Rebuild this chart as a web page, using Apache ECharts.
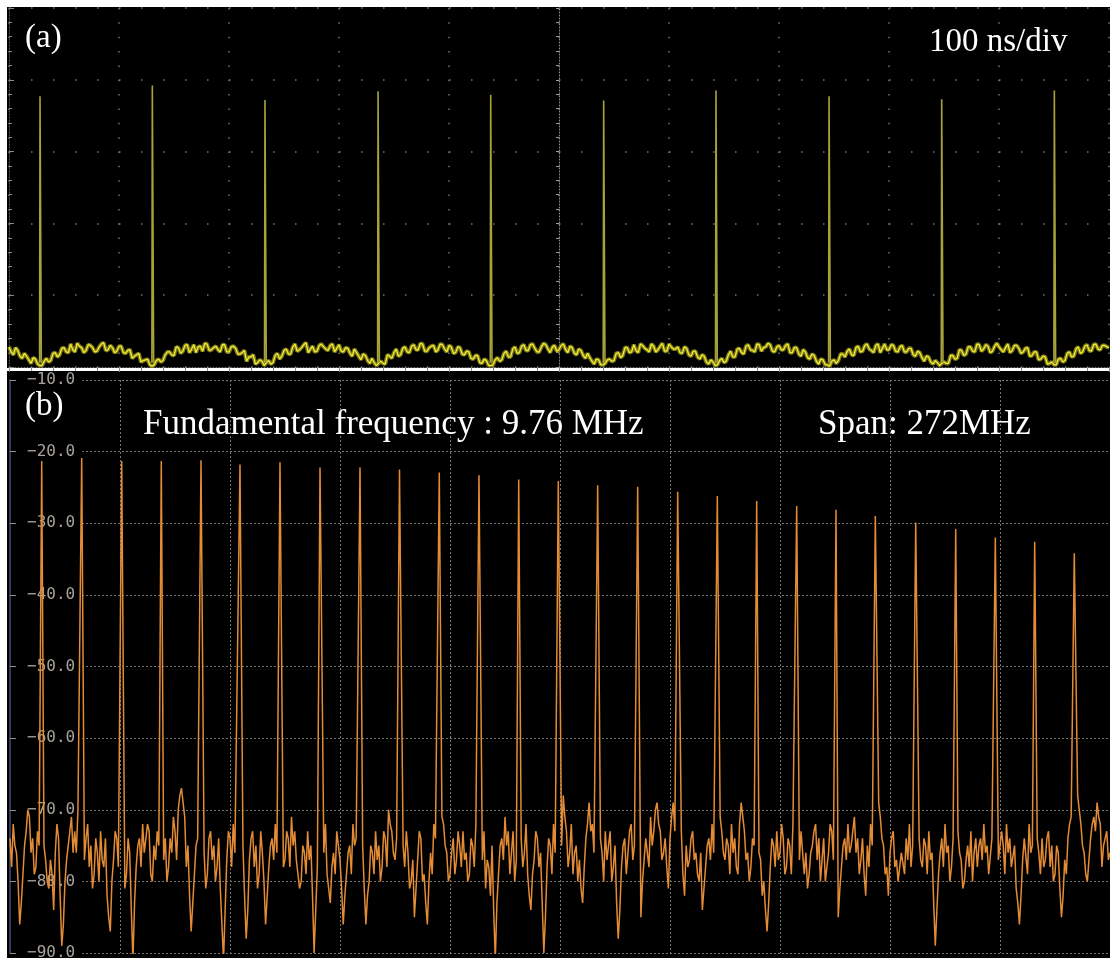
<!DOCTYPE html>
<html>
<head>
<meta charset="utf-8">
<script src="https://cdn.jsdelivr.net/npm/echarts@6/dist/echarts.min.js"></script>
<style>
  html, body { margin: 0; padding: 0; background: #ffffff; }
  #chart { width: 1110px; height: 958px; }
</style>
</head>
<body>
<div id="chart"></div>
<script>
// ---------- (a) oscilloscope: 100 ns/div, 10 divisions, vertical in 1/100 div ----------
// samples every 4 ns, and the samples 2 ns after them
const scopeSampleNs = 4;
const scopeTrace = [
  28, 17, 23, 12, 15, 5, 11, 2,
  8, 7, 19, 14, 26, 21, 32, 21, 29, 20, 31, 27, 22, 32, 23, 30, 20, 29, 20, 23, 12, 17, 7, 10, 3,
  3, 11, 9, 21, 17, 28, 19, 30, 20, 31, 28, 22, 32, 24, 29, 21, 31, 21, 29, 18, 20, 8, 14, 4, 10, 2,
  9, 6, 19, 15, 25, 18, 32, 24, 31, 20, 29, 22, 32, 25, 30, 21, 31, 21, 26, 15, 20, 10, 16, 5, 6,
  5, 5, 17, 12, 25, 17, 28, 20, 31, 24, 32, 22, 29, 21, 32, 25, 30, 19, 28, 18, 22, 12, 16, 6, 11, 2,
  3, 13, 10, 22, 14, 28, 20, 31, 23, 32, 21, 28, 31, 20, 30, 24, 32, 20, 27, 17, 23, 12, 13, 4, 10, 3,
  10, 8, 19, 13, 27, 20, 31, 20, 30, 24, 32, 21, 29, 22, 32, 25, 28, 19, 26, 15, 22, 11, 15, 4, 7,
  3, 12, 8, 22, 14, 26, 18, 31, 23, 32, 22, 28, 31, 21, 30, 24, 32, 20, 27, 15, 21, 11, 16, 4, 10, 3,
  8, 5, 18, 14, 25, 16, 29, 22, 32, 23, 30, 20, 32, 24, 30, 21, 30, 21, 26, 15, 20, 8, 14, 4, 6,
  5, 5, 16, 11, 24, 16, 28, 22, 32, 22, 31, 20, 29, 28, 21, 32, 23, 30, 19, 26, 15, 21, 10, 15, 4, 7,
  3, 12, 9, 21, 15, 28, 21, 31, 22, 32, 24, 30, 27
];
const scopeTraceMid = [
  21, 27, 15, 19, 10, 13, 4,
  2, 12, 9, 20, 17, 27, 20, 24, 33, 27, 23, 30, 21, 28, 34, 24, 27, 22, 29, 19, 24, 15, 19, 9, 11,
  1, 9, 7, 17, 21, 16, 27, 22, 31, 25, 20, 29, 33, 23, 27, 24, 31, 21, 28, 26, 18, 23, 14, 17, 6, 8,
  6, 4, 16, 11, 23, 18, 28, 22, 27, 34, 25, 21, 30, 28, 23, 32, 26, 22, 27, 19, 25, 15, 18, 9, 12, 2,
  8, 4, 15, 20, 15, 26, 21, 29, 24, 33, 22, 27, 30, 24, 31, 21, 28, 20, 27, 17, 21, 11, 16, 5, 9,
  2, 10, 8, 19, 14, 25, 19, 29, 23, 31, 26, 21, 33, 25, 28, 22, 30, 24, 29, 19, 25, 16, 19, 8, 11, 3,
  5, 11, 9, 20, 16, 27, 21, 23, 32, 26, 21, 29, 24, 33, 22, 28, 25, 20, 28, 17, 22, 14, 17, 7, 10, 2,
  9, 6, 17, 14, 25, 20, 29, 24, 21, 31, 27, 33, 22, 28, 24, 30, 20, 27, 18, 24, 13, 18, 8, 11, 3,
  1, 10, 9, 18, 22, 17, 27, 21, 30, 25, 20, 32, 26, 24, 31, 22, 28, 21, 26, 17, 22, 13, 15, 7, 9, 2,
  7, 5, 16, 12, 23, 18, 28, 21, 31, 25, 29, 22, 33, 24, 27, 20, 30, 26, 21, 27, 16, 21, 11, 14, 5, 3,
  11, 7, 19, 14, 25, 19, 29, 23, 31, 25, 30, 28
];
const pulseTimesNs = [28.2, 130.3, 232.7, 335.5, 437.9, 540.6, 642.7, 745.5, 847.9, 950.3];
const pulseTops = [377, 392, 372, 384, 379, 371, 385, 377, 373, 385];
const pulseFoot = 6;

// ---------- (b) RF spectrum: span 272 MHz, dBm ----------
// sweep bins every 0.8 MHz, plus the bins half a step later
const specStepMHz = 0.8;
const specNoise = [
  -74, -72, -76, -86, -79, -73, -71, -74, -78, -75, -72, -77, -81, -79, -76, -74, -89, -80, -75, -71,
  -73, -70, -74, -77, -72, -75, -79, -76, -73, -78, -82, -87, -77, -74, -71, -75, -79, -76, -91, -78,
  -74, -72, -76, -73, -80, -77, -75, -72, -74, -78, -76, -73, -70, -67, -71, -75, -87, -79, -74, -72,
  -76, -79, -73, -75, -78, -81, -91, -77, -74, -72, -76, -79, -75, -88, -77, -73, -75, -79, -76, -86,
  -78, -74, -72, -75, -82, -77, -74, -71, -73, -77, -80, -76, -73, -75, -90, -78, -74, -76, -79, -83,
  -76, -73, -77, -86, -79, -75, -72, -74, -77, -75, -86, -80, -76, -73, -75, -78, -74, -70, -73, -77,
  -75, -72, -78, -76, -80, -85, -77, -74, -79, -86, -76, -72, -70, -68, -72, -76, -79, -74, -77, -75,
  -73, -76, -79, -75, -72, -74, -77, -81, -78, -75, -91, -79, -74, -71, -73, -76, -80, -77, -74, -76,
  -79, -84, -77, -74, -76, -90, -78, -75, -72, -74, -71, -68, -73, -76, -79, -75, -77, -83, -74, -69,
  -72, -75, -78, -76, -73, -77, -80, -75, -88, -78, -74, -76, -72, -75, -79, -85, -77, -74, -71, -73,
  -69, -73, -76, -78, -74, -69, -72, -76, -79, -75, -77, -73, -76, -80, -84, -78, -74, -72, -75, -69,
  -73, -77, -75, -72, -74, -79, -69, -73, -76, -78, -75, -73, -77, -80, -87, -78, -75, -73, -76, -74,
  -78, -75, -72, -74, -77, -73, -76, -79, -75, -72, -74, -77, -80, -76, -73, -75, -85, -78, -74, -72,
  -75, -71, -74, -77, -79, -75, -72, -70, -66, -71, -75, -78, -76, -73, -77, -80, -76, -74, -72, -75,
  -77, -74, -78, -75, -73, -76, -89, -79, -74, -72, -75, -78, -76, -73, -77, -80, -75, -73, -76, -78,
  -74, -72, -75, -79, -76, -73, -77, -75, -72, -74, -78, -81, -86, -77, -74, -72, -75, -78, -76, -74,
  -77, -73, -75, -79, -76, -85, -77, -74, -71, -70, -68, -72, -76, -80, -74, -71, -69, -72, -75, -73, -76
];
const specNoiseMid = [
  -78, -75, -80, -83, -75, -70, -76, -79, -73, -78, -75, -80, -77, -84, -72, -82, -86, -77, -73, -76,
  -76, -73, -79, -74, -78, -81, -74, -80, -77, -74, -85, -80, -73, -78, -76, -81, -74, -84, -83, -75,
  -78, -76, -72, -79, -75, -73, -79, -77, -80, -74, -71, -77, -68, -69, -78, -82, -83, -75, -79, -77,
  -81, -74, -77, -80, -74, -86, -84, -73, -78, -76, -80, -74, -82, -84, -74, -78, -81, -73, -80, -82,
  -75, -77, -76, -79, -78, -73, -78, -75, -77, -81, -75, -79, -77, -82, -84, -75, -79, -72, -81, -78,
  -79, -75, -81, -82, -76, -79, -75, -78, -73, -81, -82, -75, -79, -77, -80, -73, -78, -72, -76, -74,
  -78, -75, -73, -81, -77, -81, -73, -80, -83, -80, -79, -74, -73, -71, -75, -80, -76, -79, -73, -78,
  -77, -80, -74, -78, -76, -79, -73, -77, -82, -84, -83, -75, -77, -75, -79, -73, -77, -81, -78, -72,
  -82, -79, -73, -78, -83, -85, -74, -79, -76, -70, -75, -71, -78, -72, -76, -80, -81, -78, -72, -73,
  -76, -79, -74, -80, -77, -73, -78, -83, -84, -75, -79, -73, -77, -80, -82, -80, -74, -78, -75, -70,
  -72, -77, -74, -81, -71, -73, -76, -73, -82, -78, -74, -77, -79, -76, -81, -75, -77, -76, -72, -71,
  -76, -74, -79, -76, -78, -72, -71, -77, -80, -74, -79, -76, -82, -84, -83, -74, -78, -77, -72, -79,
  -74, -79, -76, -78, -73, -79, -81, -76, -73, -77, -80, -74, -78, -72, -77, -82, -81, -75, -77, -76,
  -73, -76, -79, -74, -82, -78, -75, -68, -69, -74, -79, -82, -74, -78, -80, -76, -79, -77, -78, -80,
  -80, -77, -74, -79, -77, -83, -84, -76, -78, -76, -80, -74, -79, -76, -81, -77, -78, -80, -74, -75,
  -77, -76, -79, -74, -80, -77, -73, -79, -76, -78, -75, -83, -82, -74, -79, -76, -80, -74, -79, -78,
  -74, -78, -80, -75, -81, -82, -79, -72, -74, -69, -70, -75, -79, -77, -72, -73, -71, -78, -74, -77
];
const harmonicFreqMHz = [
  7.84, 17.73, 27.62, 37.41, 47.23, 56.87, 66.76, 76.66, 86.55, 96.31,
  106.15, 115.97, 125.79, 135.58, 145.32, 155.21, 165.10, 174.90, 184.64, 194.53,
  204.25, 213.97, 223.96, 233.85, 243.64, 253.38, 263.17
];
const harmonicLevelDbm = [
  -21.3, -20.9, -21.3, -21.3, -21.2, -21.8, -21.5, -22.2, -22.2, -22.5,
  -22.9, -23.3, -23.9, -24.1, -24.7, -24.9, -25.6, -26.2, -26.9, -27.6,
  -28.1, -29.0, -29.9, -30.8, -32.0, -32.6, -34.2
];
const harmonicHalfWidthMHz = 0.55;

// ---------- build series data ----------
let scopeData = [];
scopeTrace.forEach((v, i) => scopeData.push([i * scopeSampleNs, v]));
scopeTraceMid.forEach((v, i) => scopeData.push([i * scopeSampleNs + scopeSampleNs / 2, v]));
scopeData.sort((a, b) => a[0] - b[0]);

const pulseData = [];
pulseTimesNs.forEach((t, k) => {
  pulseData.push([t - 0.4, pulseFoot], [t, pulseTops[k]], [t + 1.2, pulseFoot], [t + 1.3, '-']);
});

const nearHarmonic = f => harmonicFreqMHz.some(h => Math.abs(h - f) < harmonicHalfWidthMHz);
let specData = [];
specNoise.forEach((v, i) => specData.push([i * specStepMHz, v]));
specNoiseMid.forEach((v, i) => specData.push([(i + 0.5) * specStepMHz, v]));
specData = specData.filter(p => !nearHarmonic(p[0]));
harmonicFreqMHz.forEach((f, k) => specData.push([f, harmonicLevelDbm[k]]));
specData.sort((a, b) => a[0] - b[0]);

const gridGrey = '#767676';
const serif = '"Liberation Serif", "Times New Roman", serif';

const chart = echarts.init(document.getElementById('chart'), null, { renderer: 'canvas' });
chart.setOption({
  animation: false,
  backgroundColor: '#ffffff',
  grid: [
    { left: 9, right: 1, top: 8, bottom: 591, outerBoundsMode: 'none' },
    { left: 10, right: 0, top: 380, bottom: 5, outerBoundsMode: 'none' }
  ],
  xAxis: [
    {
      type: 'value', gridIndex: 0, min: 0, max: 1000, interval: 100, position: 'top',
      axisLine: { show: true, lineStyle: { color: '#6a6a6a', type: [1, 2] } },
      axisTick: { show: true, inside: true, length: 5, lineStyle: { color: '#8a8a8a' } },
      minorTick: { show: true, splitNumber: 5, length: 4, lineStyle: { color: '#8a8a8a' } },
      axisLabel: { show: false },
      splitLine: { show: true, lineStyle: { color: gridGrey, width: 1.5, type: [1.5, 12.85] } }
    },
    {
      type: 'value', gridIndex: 1, min: 0, max: 272, interval: 27.2,
      axisLine: { show: false }, axisTick: { show: false }, axisLabel: { show: false },
      splitLine: { show: true, lineStyle: { color: gridGrey, width: 1, type: [2, 2] } }
    }
  ],
  yAxis: [
    {
      type: 'value', gridIndex: 0, min: 0, max: 500, interval: 100, position: 'left',
      axisLine: { show: true, lineStyle: { color: '#5a5a5a', type: [1, 2] } },
      axisTick: { show: true, inside: true, length: 5, lineStyle: { color: '#8a8a8a' } },
      minorTick: { show: true, splitNumber: 5, length: 3, lineStyle: { color: '#8a8a8a' } },
      axisLabel: { show: false },
      splitLine: { show: true, lineStyle: { color: gridGrey, width: 1.5, type: [1.5, 20.5] } }
    },
    {
      // centre graticule line with its sub-division ticks
      type: 'value', gridIndex: 0, min: 0, max: 500, interval: 20, position: 'left', offset: -550,
      axisLine: { show: true, lineStyle: { color: '#8c8c8c', type: [1, 2] } },
      axisTick: { show: true, length: 3, lineStyle: { color: '#9a9a9a' } },
      axisLabel: { show: false }, splitLine: { show: false }
    },
    {
      // spectrum horizontal grid lines
      type: 'value', gridIndex: 1, min: -90, max: -10, interval: 10, position: 'left', z: 0,
      axisLine: { show: false }, axisTick: { show: false }, axisLabel: { show: false },
      splitLine: { show: true, lineStyle: { color: gridGrey, width: 1, type: [2, 2] } }
    },
    {
      // spectrum reference-level labels
      type: 'value', gridIndex: 1, min: -90, max: -10, interval: 10, position: 'left', z: 1,
      axisLine: { show: true, lineStyle: { color: '#2e3a56', width: 2 } },
      axisTick: { show: true, inside: true, length: 6, lineStyle: { color: '#8f8f8f' } },
      axisLabel: {
        show: true, inside: true, margin: 7,
        fontFamily: '"DejaVu Sans Mono", monospace', fontSize: 16, color: '#a8a398',
        backgroundColor: '#000000', padding: [0, 7, 0, 10],
        formatter: v => (v < 0 ? '\u2212' : '') + Math.abs(v).toFixed(1)
      },
      splitLine: { show: false }
    }
  ],
  series: [
    {
      name: 'trace-glow', type: 'line', xAxisIndex: 0, yAxisIndex: 0, data: scopeData,
      showSymbol: false, silent: true, z: 2,
      lineStyle: { color: '#8d8a1e', width: 4, opacity: 0.85 }
    },
    {
      name: 'trace', type: 'line', xAxisIndex: 0, yAxisIndex: 0, data: scopeData,
      showSymbol: false, silent: true, z: 3,
      lineStyle: { color: '#f2ec34', width: 1.3 }
    },
    {
      name: 'pulses', type: 'line', xAxisIndex: 0, yAxisIndex: 0, data: pulseData,
      showSymbol: false, silent: true, connectNulls: false, z: 4,
      lineStyle: { color: '#a7a33a', width: 1.6 }
    },
    {
      name: 'spectrum', type: 'line', xAxisIndex: 1, yAxisIndex: 3, data: specData,
      showSymbol: false, silent: true, z: 3,
      lineStyle: { color: '#e48b35', width: 1.5 }
    }
  ],
  graphic: [
    { type: 'rect', z: -10, silent: true, shape: { x: 7, y: 7, width: 1103, height: 361 }, style: { fill: '#000000' } },
    { type: 'rect', z: -10, silent: true, shape: { x: 7, y: 371, width: 1103, height: 587 }, style: { fill: '#000000' } },
    { type: 'text', z: 100, x: 25, y: 38, style: { text: '(a)', font: '33px ' + serif, fill: '#ffffff', verticalAlign: 'middle' } },
    { type: 'text', z: 100, x: 929, y: 42, style: { text: '100 ns/div', font: '33px ' + serif, fill: '#ffffff', verticalAlign: 'middle' } },
    { type: 'text', z: 100, x: 25, y: 406, style: { text: '(b)', font: '33px ' + serif, fill: '#ffffff', verticalAlign: 'middle' } },
    { type: 'text', z: 100, x: 143, y: 425, style: { text: 'Fundamental frequency : 9.76 MHz', font: '35px ' + serif, fill: '#ffffff', verticalAlign: 'middle' } },
    { type: 'text', z: 100, x: 818, y: 425, style: { text: 'Span: 272MHz', font: '35px ' + serif, fill: '#ffffff', verticalAlign: 'middle' } }
  ]
});
</script>
</body>
</html>
